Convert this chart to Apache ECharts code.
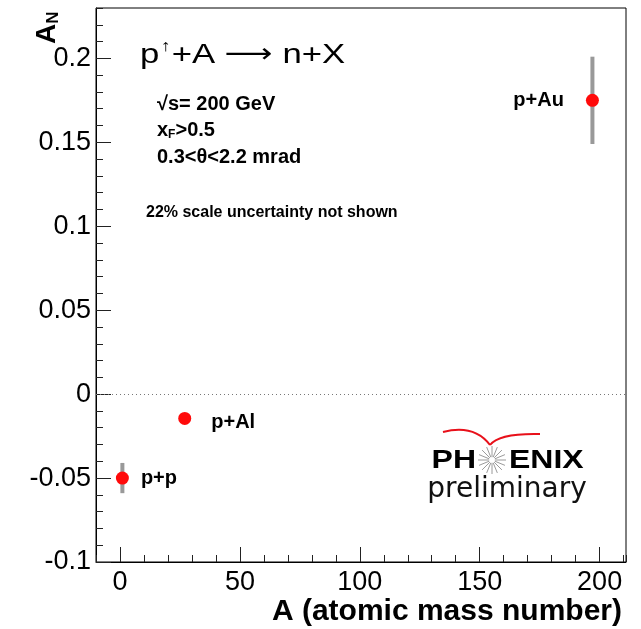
<!DOCTYPE html>
<html lang="en">
<head>
  <meta charset="UTF-8">
  <title>A_N vs A</title>
  <script src="https://cdn.jsdelivr.net/npm/echarts@6.0.0/dist/echarts.min.js"></script>
  <style>
    html, body { margin: 0; background: #fff; }
    #main { width: 641px; height: 629px; }
  </style>
</head>
<body>
<div id="main"></div>
<script type="text/javascript">
  // data
  var systems = ['p+p', 'p+Al', 'p+Au'];
  var massNumber = [1, 27, 197];
  var asym = [-0.05, -0.0145, 0.175];
  var asymErr = [0.009, 0.002, 0.026];

  var xMajor = [0, 50, 100, 150, 200];
  var yMajor = [-0.1, -0.05, 0, 0.05, 0.1, 0.15, 0.2];

  var labelFont = 'Liberation Sans';
  var labelSide = { 'p+p': ['right', 12, 0], 'p+Al': ['right', 20, 4], 'p+Au': ['left', 22, 0] };

  var points = systems.map(function (name, i) {
    var s = labelSide[name];
    return {
      name: name,
      value: [massNumber[i], asym[i]],
      label: { position: s[0], distance: s[1], offset: [0, s[2]] }
    };
  });
  var bars = massNumber.map(function (a, i) { return [a, asym[i], asymErr[i]]; });

  var myChart = echarts.init(document.getElementById('main'));

  function minorAxis(dim) {
    var isX = dim === 'x';
    return {
      type: 'value',
      min: isX ? -10 : -0.1,
      max: isX ? 211 : 0.23,
      interval: isX ? 10 : 0.01,
      position: isX ? 'bottom' : 'left',
      axisLine: { onZero: false, lineStyle: { color: '#000', width: 1 } },
      axisTick: { inside: true, length: 7, lineStyle: { color: '#222' } },
      splitLine: { show: false },
      axisLabel: {
        margin: isX ? 7 : 5,
        color: '#000',
        fontFamily: labelFont,
        fontSize: 27,
        showMinLabel: true,
        showMaxLabel: true,
        formatter: function (v) {
          if (isX) return (Math.round(v) % 50 === 0) ? String(Math.round(v)) : '';
          var r = Math.round(v * 100);
          return (r % 5 === 0) ? String(r / 100) : '';
        }
      }
    };
  }

  function majorAxis(dim) {
    var isX = dim === 'x';
    return {
      type: 'value',
      min: isX ? -10 : -0.1,
      max: isX ? 211 : 0.23,
      position: isX ? 'bottom' : 'left',
      offset: 0,
      axisLine: { show: false, onZero: false },
      axisTick: { inside: true, length: 15, customValues: isX ? xMajor : yMajor, lineStyle: { color: '#222' } },
      axisLabel: { show: false },
      splitLine: { show: false }
    };
  }

  // spokes of the PHENIX star
  var star = [];
  for (var k = 0; k < 16; k++) {
    var ang = k * Math.PI / 8;
    star.push({
      type: 'line',
      shape: {
        x1: 492 + 3 * Math.cos(ang), y1: 460 + 3 * Math.sin(ang),
        x2: 492 + 14 * Math.cos(ang), y2: 460 + 14 * Math.sin(ang)
      },
      style: { stroke: '#9a9a9a', lineWidth: 1 }
    });
  }

  var option = {
    animation: false,
    backgroundColor: '#fff',
    grid: { left: 96, right: 15, top: 8, bottom: 67, show: true, borderColor: '#000', borderWidth: 1 },
    xAxis: [minorAxis('x'), majorAxis('x')],
    yAxis: [minorAxis('y'), majorAxis('y')],
    series: [
      {
        type: 'custom',
        z: 1,
        renderItem: function (params, api) {
          var top = api.coord([api.value(0), api.value(1) + api.value(2)]);
          var bot = api.coord([api.value(0), api.value(1) - api.value(2)]);
          return {
            type: 'rect',
            shape: { x: top[0] - 2, y: top[1], width: 4, height: bot[1] - top[1] },
            style: { fill: '#999' }
          };
        },
        encode: { x: 0, y: 1 },
        data: bars
      },
      {
        type: 'scatter',
        z: 3,
        symbolSize: 13,
        itemStyle: { color: '#ff0a0a', opacity: 1 },
        label: {
          show: true,
          formatter: '{b}',
          color: '#000',
          fontFamily: labelFont,
          fontWeight: 'bold',
          fontSize: 20
        },
        markLine: {
          silent: true,
          symbol: 'none',
          label: { show: false },
          lineStyle: { type: [1, 3], color: '#777', width: 1 },
          data: [{ yAxis: 0 }]
        },
        data: points
      }
    ],
    graphic: [
      {
        type: 'text', x: 140, y: 55, scaleX: 1.24,
        style: {
          text: 'p{s|↑}+A {r|⟶} n+X',
          fontFamily: labelFont, fontSize: 28, fill: '#000', verticalAlign: 'middle',
          rich: {
            s: { fontFamily: labelFont, fontSize: 16, padding: [0, 1, 16, 1] },
            r: { fontFamily: 'DejaVu Sans', fontSize: 27 }
          }
        }
      },
      {
        type: 'text', x: 157, y: 104,
        style: { text: '√s= 200 GeV', fontFamily: labelFont, fontWeight: 'bold', fontSize: 20, fill: '#000', verticalAlign: 'middle' }
      },
      {
        type: 'text', x: 157, y: 130,
        style: {
          text: 'x{f|F}>0.5', fontFamily: labelFont, fontWeight: 'bold', fontSize: 20, fill: '#000', verticalAlign: 'middle',
          rich: { f: { fontFamily: labelFont, fontWeight: 'bold', fontSize: 12, padding: [10, 0, 0, 0] } }
        }
      },
      {
        type: 'text', x: 157, y: 157,
        style: { text: '0.3<θ<2.2 mrad', fontFamily: labelFont, fontWeight: 'bold', fontSize: 20, fill: '#000', verticalAlign: 'middle' }
      },
      {
        type: 'text', x: 146, y: 213,
        style: { text: '22% scale uncertainty not shown', fontFamily: labelFont, fontWeight: 'bold', fontSize: 16, fill: '#000', verticalAlign: 'middle' }
      },
      {
        type: 'text', x: 47, y: 44, rotation: Math.PI / 2,
        style: {
          text: 'A{n|N}', fontFamily: labelFont, fontWeight: 'bold', fontSize: 28, fill: '#000', align: 'left', verticalAlign: 'middle',
          rich: { n: { fontFamily: labelFont, fontWeight: 'bold', fontSize: 17, padding: [12, 0, 0, 0] } }
        }
      },
      {
        type: 'text', x: 622, y: 612,
        style: { text: 'A (atomic mass number)', fontFamily: labelFont, fontWeight: 'bold', fontSize: 30, fill: '#000', align: 'right', verticalAlign: 'middle' }
      },
      // PHENIX preliminary logo
      {
        type: 'bezierCurve',
        shape: { x1: 443, y1: 432, x2: 490, y2: 445, cpx1: 474, cpy1: 424 },
        style: { stroke: '#e8101a', lineWidth: 2, fill: null }
      },
      {
        type: 'bezierCurve',
        shape: { x1: 490, y1: 445, x2: 540, y2: 434, cpx1: 499, cpy1: 433 },
        style: { stroke: '#e8101a', lineWidth: 2, fill: null }
      },
      {
        type: 'text', x: 476, y: 461, scaleY: 0.82,
        style: { text: 'PH', fontFamily: labelFont, fontWeight: 'bold', fontSize: 32, fill: '#000', align: 'right', verticalAlign: 'middle' }
      },
      {
        type: 'text', x: 509, y: 461, scaleY: 0.82,
        style: { text: 'ENIX', fontFamily: labelFont, fontWeight: 'bold', fontSize: 32, fill: '#000', align: 'left', verticalAlign: 'middle' }
      },
      {
        type: 'text', x: 507, y: 490,
        style: { text: 'preliminary', fontFamily: 'DejaVu Sans', fontSize: 28, fill: '#111', align: 'center', verticalAlign: 'middle' }
      }
    ].concat(star)
  };

  myChart.setOption(option);

  window.onresize = function () {
    myChart.resize();
  };
</script>
</body>
</html>
